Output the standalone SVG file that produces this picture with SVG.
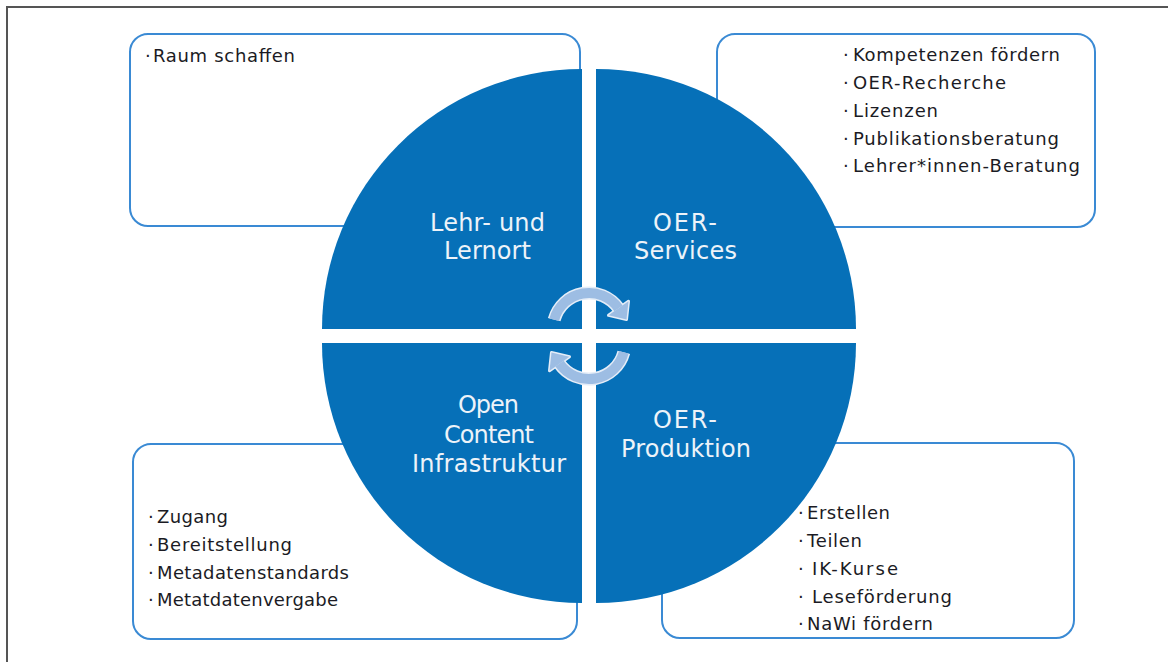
<svg xmlns="http://www.w3.org/2000/svg" width="1168" height="662" viewBox="0 0 1168 662">
<style>
.box{fill:#ffffff;stroke:#3a8ad4;stroke-width:2}
.q{fill:#0670b8}
.lst{font-family:"DejaVu Sans",sans-serif;font-size:18px;fill:#1b1b24}
.lbl{font-family:"DejaVu Sans",sans-serif;font-size:24px;fill:#edf3f9}
.arcO{fill:none;stroke:#e4edf8;stroke-width:13}
.arcF{fill:none;stroke:#9dbde3;stroke-width:10}
.hdO{fill:#e4edf8;stroke:#e4edf8;stroke-width:3;stroke-linejoin:round}
.hdF{fill:#9dbde3}
</style>
<defs>
<g id="cyc">
<path class="arcO" d="M554.2,319.7 A36,36 0 0 1 618.5,308.3"/>
<polygon class="hdO" points="628.5,301.3 608.5,315.3 626.5,319.5"/>
<path class="arcF" d="M554.2,319.7 A36,36 0 0 1 618.5,308.3"/>
<polygon class="hdF" points="628.5,301.3 608.5,315.3 626.5,319.5"/>
</g>
</defs>
<rect width="1168" height="662" fill="#ffffff"/>
<path d="M7,662 V7 H1168" fill="none" stroke="#555555" stroke-width="2"/>

<g id="box-lehr">
<rect class="box" x="130" y="34" width="450" height="192" rx="18"/>
<text class="lst" y="62"><tspan x="145">·</tspan><tspan x="153" textLength="142">Raum schaffen</tspan></text>
</g>
<g id="box-services">
<rect class="box" x="717" y="34" width="378" height="193" rx="18"/>
<text class="lst" y="61"><tspan x="843">·</tspan><tspan x="853" textLength="207">Kompetenzen fördern</tspan></text>
<text class="lst" y="89"><tspan x="843">·</tspan><tspan x="853" textLength="153">OER-Recherche</tspan></text>
<text class="lst" y="117"><tspan x="843">·</tspan><tspan x="853" textLength="85">Lizenzen</tspan></text>
<text class="lst" y="145"><tspan x="843">·</tspan><tspan x="853" textLength="206">Publikationsberatung</tspan></text>
<text class="lst" y="172"><tspan x="843">·</tspan><tspan x="853" textLength="227">Lehrer*innen-Beratung</tspan></text>
</g>
<g id="box-infra">
<rect class="box" x="133" y="444" width="444" height="195" rx="18"/>
<text class="lst" y="523"><tspan x="148">·</tspan><tspan x="157" textLength="71">Zugang</tspan></text>
<text class="lst" y="551"><tspan x="148">·</tspan><tspan x="157" textLength="135">Bereitstellung</tspan></text>
<text class="lst" y="579"><tspan x="148">·</tspan><tspan x="157" textLength="192">Metadatenstandards</tspan></text>
<text class="lst" y="606"><tspan x="148">·</tspan><tspan x="157" textLength="181">Metatdatenvergabe</tspan></text>
</g>
<g id="box-produktion">
<rect class="box" x="662" y="443" width="412" height="195" rx="18"/>
<text class="lst" y="519"><tspan x="798">·</tspan><tspan x="807" textLength="83">Erstellen</tspan></text>
<text class="lst" y="547"><tspan x="798">·</tspan><tspan x="807" textLength="55">Teilen</tspan></text>
<text class="lst" y="575"><tspan x="798">·</tspan><tspan x="812" textLength="86">IK-Kurse</tspan></text>
<text class="lst" y="603"><tspan x="798">·</tspan><tspan x="812" textLength="140">Leseförderung</tspan></text>
<text class="lst" y="630"><tspan x="798">·</tspan><tspan x="807" textLength="126">NaWi fördern</tspan></text>
</g>

<g id="q-lehr">
<path class="q" d="M582,329 L322,329 A260,260 0 0 1 582,69 Z"/>
<text class="lbl" x="430" y="231" textLength="115">Lehr- und</text>
<text class="lbl" x="444" y="259" textLength="87">Lernort</text>
</g>
<g id="q-services">
<path class="q" d="M596,329 L596,69 A260,260 0 0 1 856,329 Z"/>
<text class="lbl" x="653" y="231" textLength="64">OER-</text>
<text class="lbl" x="634" y="259" textLength="103">Services</text>
</g>
<g id="q-produktion">
<path class="q" d="M596,343 L856,343 A260,260 0 0 1 596,603 Z"/>
<text class="lbl" x="653" y="428" textLength="64">OER-</text>
<text class="lbl" x="621" y="457" textLength="130">Produktion</text>
</g>
<g id="q-infra">
<path class="q" d="M582,343 L582,603 A260,260 0 0 1 322,343 Z"/>
<text class="lbl" x="458" y="413" textLength="61">Open</text>
<text class="lbl" x="444" y="443" textLength="90">Content</text>
<text class="lbl" x="412" y="472" textLength="154">Infrastruktur</text>
</g>

<g id="connectors">
<use href="#cyc"/>
<use href="#cyc" transform="rotate(180 589 336)"/>
</g>
</svg>
